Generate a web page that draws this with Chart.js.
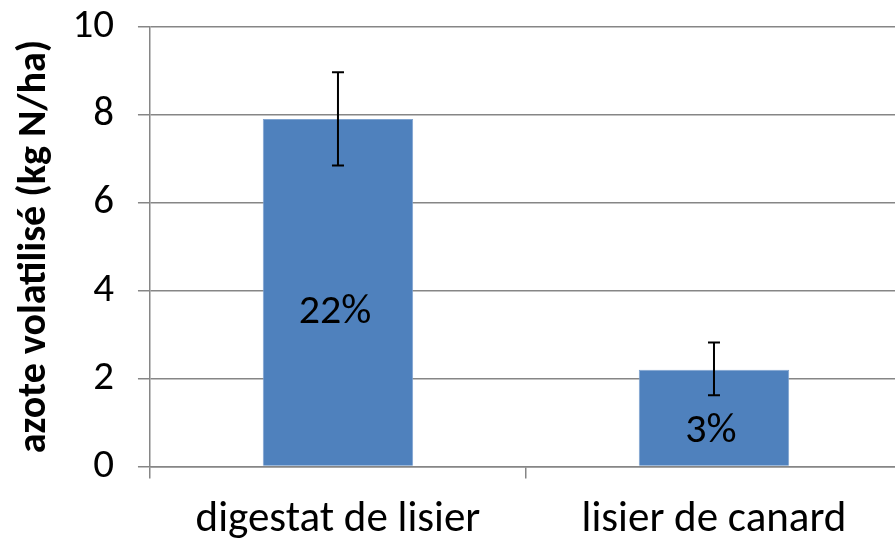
<!DOCTYPE html>
<html>
<head>
<meta charset="utf-8">
<script src="https://cdn.jsdelivr.net/npm/chart.js@4.4.0/dist/chart.umd.min.js"></script>
<style>
  html, body { margin: 0; padding: 0; background: #fff; overflow: hidden; }
  #box { position: absolute; left: 0; top: -22px; width: 902px; height: 584px; }
</style>
</head>
<body>
<div id="box"><canvas id="chart"></canvas></div>
<script>
const categories = ['digestat de lisier', 'lisier de canard'];
const values = [7.9, 2.2];
const errLow = [6.84, 1.62];
const errHigh = [8.96, 2.82];
const pctLabels = ['22%', '3%'];
const pctLabelAt = [3.5, 0.8];
const yTicks = [0, 2, 4, 6, 8, 10];

const FONT = 'Carlito, Lato, "Open Sans", sans-serif';

// error bars + percentage labels drawn on top of the bars
const extras = {
    id: 'extras',
    afterDatasetsDraw(chart) {
        const ctx = chart.ctx;
        const meta = chart.getDatasetMeta(0);
        const y = chart.scales.y;
        ctx.save();
        meta.data.forEach((bar, i) => {
            const yTop = y.getPixelForValue(errHigh[i]);
            const yBot = y.getPixelForValue(errLow[i]);
            ctx.strokeStyle = '#000';
            ctx.lineWidth = 2;
            ctx.beginPath();
            ctx.moveTo(bar.x, yTop);
            ctx.lineTo(bar.x, yBot);
            ctx.moveTo(bar.x - 6, yTop);
            ctx.lineTo(bar.x + 6, yTop);
            ctx.moveTo(bar.x - 6, yBot);
            ctx.lineTo(bar.x + 6, yBot);
            ctx.stroke();

            ctx.fillStyle = '#000';
            ctx.font = '42px ' + FONT;
            ctx.textAlign = 'center';
            ctx.textBaseline = 'middle';
            ctx.fillText(pctLabels[i], bar.x - 3, y.getPixelForValue(pctLabelAt[i]));
        });
        ctx.restore();
    }
};

new Chart(document.getElementById('chart'), {
    type: 'bar',
    data: {
        labels: categories,
        datasets: [{
            data: values,
            backgroundColor: '#4f81bd',
            borderColor: '#7ea3d0',
            borderWidth: 1,
            categoryPercentage: 0.8,
            barPercentage: 0.5
        }]
    },
    options: {
        responsive: true,
        maintainAspectRatio: false,
        animation: false,
        layout: { padding: { top: 0, left: 22, right: 0, bottom: 0 } },
        plugins: {
            legend: { display: false },
            tooltip: { enabled: false }
        },
        scales: {
            x: {
                offset: true,
                grid: {
                    offset: true,
                    drawOnChartArea: false,
                    color: '#868686',
                    lineWidth: 1.5,
                    tickLength: 12
                },
                border: { color: '#868686', width: 1.5 },
                ticks: {
                    color: '#000',
                    font: { family: FONT, size: 43 },
                    padding: 16
                }
            },
            y: {
                min: 0,
                max: 10,
                afterBuildTicks: (axis) => { axis.ticks = yTicks.map(v => ({ value: v })); },
                grid: {
                    color: '#868686',
                    lineWidth: 1.5,
                    tickLength: 12
                },
                border: { color: '#868686', width: 1.5 },
                ticks: {
                    color: '#000',
                    font: { family: FONT, size: 41 },
                    padding: 24
                },
                title: {
                    display: true,
                    text: 'azote volatilisé (kg N/ha)',
                    color: '#000',
                    font: { family: FONT, size: 40, weight: 'bold', lineHeight: 0.66 },
                    padding: { top: 0, bottom: 0 }
                }
            }
        }
    },
    plugins: [extras]
});
</script>
</body>
</html>
